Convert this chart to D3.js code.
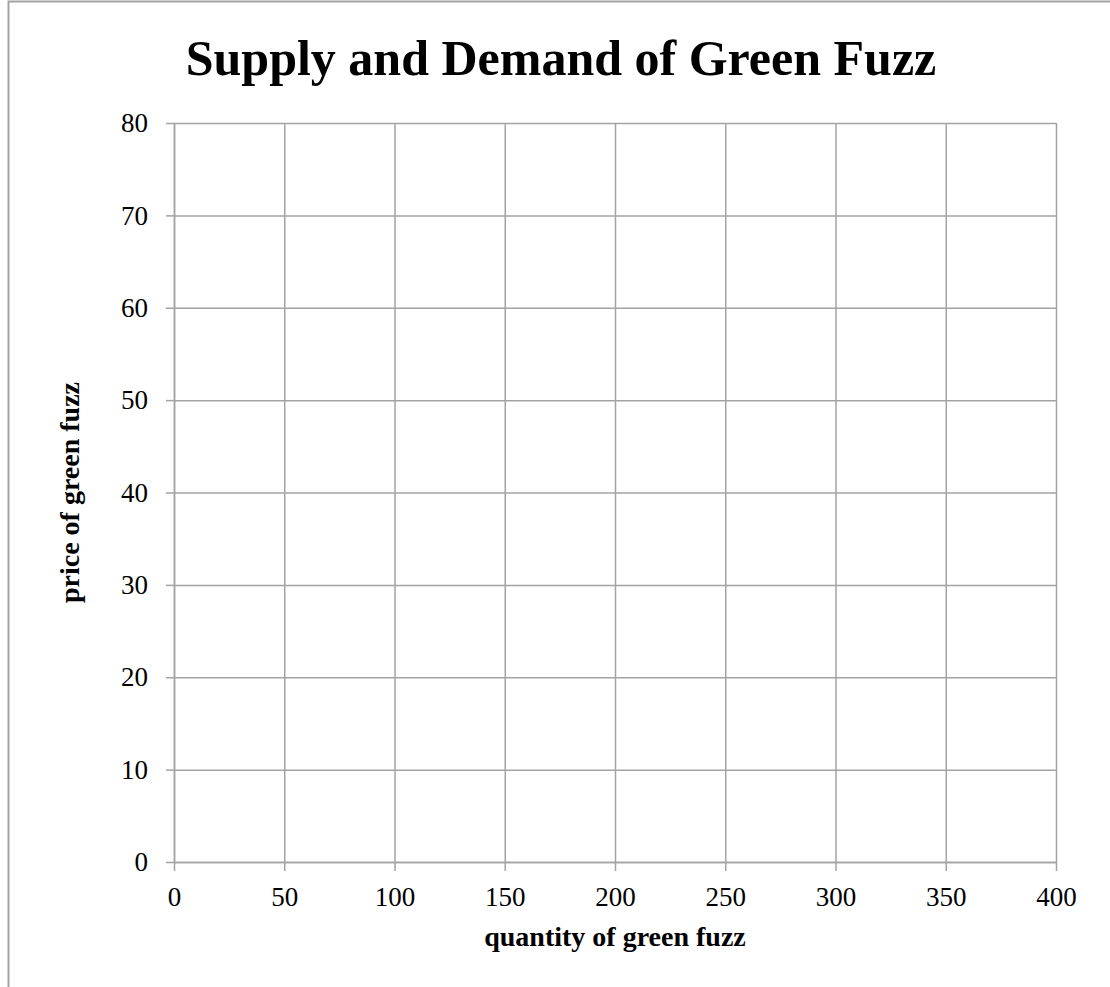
<!DOCTYPE html>
<html>
<head>
<meta charset="utf-8">
<script src="https://cdn.jsdelivr.net/npm/d3@7"></script>
<style>
  body { margin: 0; background: #fff; }
  svg { display: block; font-family: "Liberation Serif", serif; }
</style>
</head>
<body>
<svg id="chart" width="1110" height="987"></svg>
<script>
const W = 1110;
const H = 987;
const LEFT = 174, RIGHT = 1056, TOP = 123, BOTTOM = 862;
const GRID = '#a3a3a3';

const title = 'Supply and Demand of Green Fuzz';
const xLabel = 'quantity of green fuzz';
const yLabel = 'price of green fuzz';
const xTicks = [0, 50, 100, 150, 200, 250, 300, 350, 400];
const yTicks = [0, 10, 20, 30, 40, 50, 60, 70, 80];

const svg = d3.select('#chart');

// frame (only top and left edges show in the original)
svg.append('rect')
    .attr('x', 8.5)
    .attr('y', 1.5)
    .attr('width', W + 20)
    .attr('height', H + 20)
    .attr('fill', 'none')
    .attr('stroke', GRID)
    .attr('stroke-width', 2);

const xScale = d3.scaleLinear()
    .domain([d3.min(xTicks), d3.max(xTicks)])
    .range([LEFT, RIGHT]);

const yScale = d3.scaleLinear()
    .domain([d3.min(yTicks), d3.max(yTicks)])
    .range([BOTTOM, TOP]);

// grid lines
svg.append('g')
    .attr('transform', 'translate(0,' + TOP + ')')
    .call(d3.axisBottom(xScale).tickValues(xTicks).tickSize(BOTTOM - TOP).tickFormat(''))
    .call(g => g.select('.domain').remove());

svg.append('g')
    .attr('transform', 'translate(' + RIGHT + ',0)')
    .call(d3.axisLeft(yScale).tickValues(yTicks).tickSize(RIGHT - LEFT).tickFormat(''))
    .call(g => g.select('.domain').remove());

// axes with outside ticks
svg.append('g')
    .attr('id', 'x-axis')
    .attr('transform', 'translate(0,' + BOTTOM + ')')
    .call(d3.axisBottom(xScale).tickValues(xTicks).tickSize(9).tickSizeOuter(0).tickPadding(16));

svg.append('g')
    .attr('id', 'y-axis')
    .attr('transform', 'translate(' + LEFT + ',0)')
    .call(d3.axisLeft(yScale).tickValues(yTicks).tickSize(8).tickSizeOuter(0).tickPadding(18));

svg.selectAll('.tick line, .domain')
    .attr('stroke', GRID)
    .attr('stroke-width', 1.5);

svg.selectAll('.tick text')
    .attr('fill', '#000')
    .style('font-family', '"Liberation Serif", serif')
    .style('font-size', '27px');

svg.append('text')
    .attr('x', 561)
    .attr('y', 75)
    .attr('text-anchor', 'middle')
    .style('font-size', '50px')
    .style('font-weight', 'bold')
    .text(title);

svg.append('text')
    .attr('x', (LEFT + RIGHT) / 2)
    .attr('y', 946)
    .attr('text-anchor', 'middle')
    .style('font-size', '28px')
    .style('font-weight', 'bold')
    .text(xLabel);

svg.append('text')
    .attr('transform', 'translate(79,' + (TOP + BOTTOM) / 2 + ') rotate(-90)')
    .attr('text-anchor', 'middle')
    .style('font-size', '28px')
    .style('font-weight', 'bold')
    .text(yLabel);
</script>
</body>
</html>
